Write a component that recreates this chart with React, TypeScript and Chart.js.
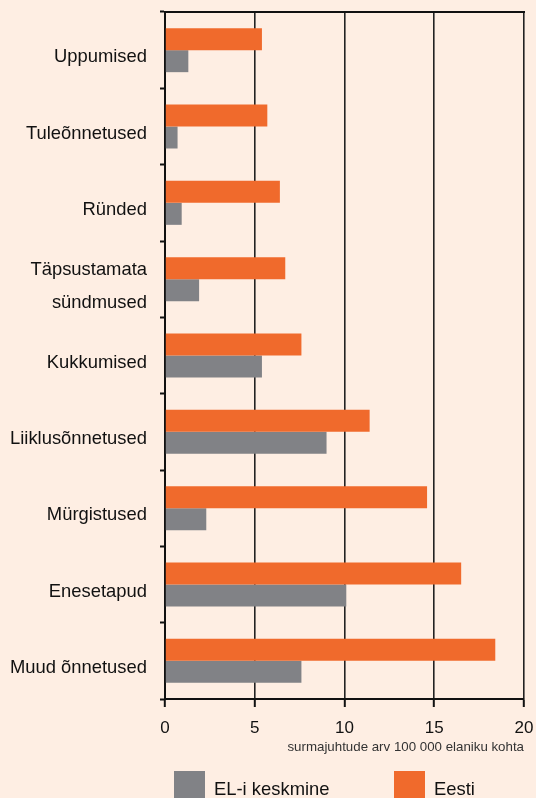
import React, { useEffect, useRef } from "react";
import { Chart, registerables } from "chart.js";

Chart.register(...registerables);

const categories: (string | string[])[] = [
  "Uppumised",
  "Tuleõnnetused",
  "Ründed",
  ["Täpsustamata", "sündmused"],
  "Kukkumised",
  "Liiklusõnnetused",
  "Mürgistused",
  "Enesetapud",
  "Muud õnnetused",
];
const eestiValues = [5.4, 5.7, 6.4, 6.7, 7.6, 11.4, 14.6, 16.5, 18.4];
const elValues = [1.3, 0.7, 0.93, 1.9, 5.4, 9.0, 2.3, 10.1, 7.6];
const xTicks = [0, 5, 10, 15, 20];
const xTitle = "surmajuhtude arv 100 000 elaniku kohta";
const legendLabels = ["EL-i keskmine", "Eesti"];

const ORANGE = "#F06A2C";
const GRAY = "#818286";
const BG = "#FEEEE3";
const FONT = "'Liberation Sans', Arial, sans-serif";

export default function App() {
  const ref = useRef<HTMLCanvasElement | null>(null);

  useEffect(() => {
    if (!ref.current) return;
    const chart = new Chart(ref.current, {
      type: "bar",
      data: {
        labels: categories,
        datasets: [
          {
            label: "Eesti",
            data: eestiValues,
            backgroundColor: ORANGE,
            borderWidth: 0,
            categoryPercentage: 0.5765,
            barPercentage: 1,
          },
          {
            label: "EL-i keskmine",
            data: elValues,
            backgroundColor: GRAY,
            borderWidth: 0,
            categoryPercentage: 0.5765,
            barPercentage: 1,
          },
        ],
      },
      options: {
        indexAxis: "y",
        animation: false,
        responsive: false,
        maintainAspectRatio: false,
        layout: { padding: { top: 12, right: 12, bottom: 43, left: 0 } },
        plugins: {
          legend: { display: false },
          tooltip: { enabled: false },
        },
        scales: {
          x: {
            type: "linear",
            position: "bottom",
            min: 0,
            max: 20,
            afterBuildTicks: (s: any) => {
              s.ticks = xTicks.map((v) => ({ value: v }));
            },
            afterFit: (s: any) => {
              s.height = 56;
              s.paddingLeft = 0;
              s.paddingRight = 0;
            },
            ticks: {
              color: "#111",
              font: { family: FONT, size: 17 },
              padding: 11,
            },
            grid: {
              color: "#222",
              lineWidth: 1.6,
              tickLength: 8,
              tickColor: "#111",
              tickWidth: 2,
            },
            border: { display: true, color: "#111", width: 2 },
            title: {
              display: true,
              text: xTitle,
              align: "end",
              color: "#333",
              font: { family: FONT, size: 13.3 },
              padding: { top: 0, bottom: 0 },
            },
          },
          x2: {
            type: "linear",
            position: "top",
            min: 0,
            max: 20,
            display: true,
            ticks: { display: false },
            grid: { display: false, drawTicks: false },
            border: { display: true, color: "#111", width: 2 },
            afterFit: (s: any) => {
              s.height = 0;
              s.paddingLeft = 0;
              s.paddingRight = 0;
            },
          },
          y: {
            type: "category",
            position: "left",
            afterFit: (s: any) => {
              s.width = 165;
              s.paddingTop = 0;
              s.paddingBottom = 0;
            },
            ticks: {
              color: "#111",
              font: { family: FONT, size: 18.4, lineHeight: 1.8 },
              padding: 13,
              labelOffset: 7,
            },
            grid: {
              offset: true,
              drawOnChartArea: false,
              tickLength: 5,
              tickColor: "#111",
              tickWidth: 2,
            },
            border: { display: true, color: "#111", width: 2 },
          },
        },
      },
    });
    return () => chart.destroy();
  }, []);

  const boxStyle = (left: number, color: string): React.CSSProperties => ({
    position: "absolute",
    left,
    top: 771,
    width: 31,
    height: 31,
    background: color,
  });
  const textStyle = (left: number): React.CSSProperties => ({
    position: "absolute",
    left,
    top: 773,
    height: 31,
    lineHeight: "31px",
    fontFamily: FONT,
    fontSize: 18.4,
    color: "#111",
    whiteSpace: "nowrap",
  });

  return (
    <div
      style={{
        position: "absolute",
        left: 0,
        top: 0,
        width: 536,
        height: 798,
        overflow: "hidden",
        background: BG,
      }}
    >
      <canvas ref={ref} width={536} height={798} style={{ display: "block" }} />
      <div style={boxStyle(174, GRAY)} />
      <div style={textStyle(214)}>{legendLabels[0]}</div>
      <div style={boxStyle(394, ORANGE)} />
      <div style={textStyle(434)}>{legendLabels[1]}</div>
    </div>
  );
}
